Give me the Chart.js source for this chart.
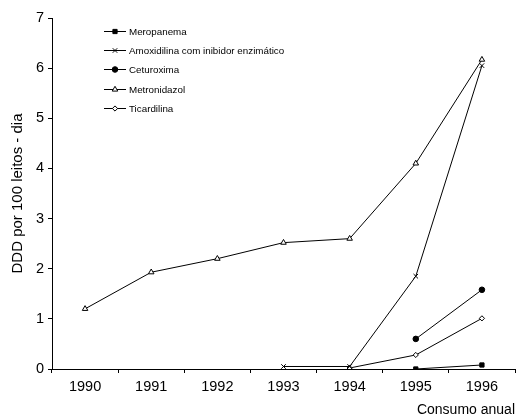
<!DOCTYPE html>
<html>
<head>
<meta charset="utf-8">
<script src="https://cdn.jsdelivr.net/npm/chart.js@4.4.1/dist/chart.umd.min.js"></script>
<style>
  html, body { margin: 0; padding: 0; background: #fff; }
  #wrap { width: 520px; height: 419px; position: relative; }
</style>
</head>
<body>
<div id="wrap"><canvas id="chart"></canvas></div>
<script>
// Data
const years = ['1990', '1991', '1992', '1993', '1994', '1995', '1996'];
const meropanema = [null, null, null, null, null, 0.0, 0.08];
const amoxidilina = [null, null, null, 0.05, 0.05, 1.85, 6.05];
const cefuroxima = [null, null, null, null, null, 0.6, 1.58];
const metronidazol = [1.2, 1.93, 2.2, 2.52, 2.6, 4.1, 6.17];
const ticardilina = [null, null, null, null, 0.02, 0.28, 1.01];
const seriesNames = ['Meropanema', 'Amoxidilina com inibidor enzimático', 'Ceturoxima', 'Metronidazol', 'Ticardilina'];
const yTicks = [0, 1, 2, 3, 4, 5, 6, 7];

const FONT = "'Liberation Sans', Arial, sans-serif";

function makeSet(label, data, style, radius, fill) {
    return {
        label: label,
        data: data,
        borderColor: '#000',
        borderWidth: 1,
        pointStyle: style,
        pointRadius: radius,
        pointBackgroundColor: fill,
        pointBorderColor: '#000',
        pointBorderWidth: 1,
        tension: 0,
        spanGaps: false
    };
}

// Legend drawn as a column inside the plot, like the original
const columnLegend = {
    id: 'columnLegend',
    afterDraw(chart) {
        const ctx = chart.ctx;
        const x0 = 104, x1 = 126, tx = 129;
        const rows = [31, 50, 69, 89, 108];
        ctx.save();
        ctx.font = '9.8px ' + FONT;
        ctx.textBaseline = 'middle';
        chart.data.datasets.forEach((ds, i) => {
            const y = rows[i];
            ctx.strokeStyle = '#000';
            ctx.lineWidth = 1;
            ctx.beginPath();
            ctx.moveTo(x0, y + 0.5);
            ctx.lineTo(x1, y + 0.5);
            ctx.stroke();
            ctx.fillStyle = ds.pointBackgroundColor;
            Chart.helpers.drawPoint(ctx, {
                pointStyle: ds.pointStyle,
                radius: ds.pointRadius,
                borderWidth: 1
            }, (x0 + x1) / 2, y + 0.5);
            ctx.fillStyle = '#000';
            ctx.fillText(ds.label, tx, y + 1);
        });
        ctx.restore();
    }
};

new Chart(document.getElementById('chart'), {
    type: 'line',
    data: {
        labels: years,
        datasets: [
            makeSet(seriesNames[0], meropanema, 'rect', 3, '#000'),
            makeSet(seriesNames[1], amoxidilina, 'crossRot', 3.2, '#000'),
            makeSet(seriesNames[2], cefuroxima, 'circle', 2.8, '#000'),
            makeSet(seriesNames[3], metronidazol, 'triangle', 3.2, '#fff'),
            makeSet(seriesNames[4], ticardilina, 'rectRot', 2.6, '#fff')
        ]
    },
    options: {
        responsive: true,
        maintainAspectRatio: false,
        animation: false,
        layout: { padding: { top: 18, right: 1, left: 0, bottom: 0 } },
        plugins: {
            legend: { display: false },
            tooltip: { enabled: false }
        },
        scales: {
            x: {
                type: 'category',
                offset: true,
                afterFit: s => { s.height = 50; },
                grid: {
                    offset: true,
                    drawOnChartArea: false,
                    drawTicks: true,
                    tickLength: 4,
                    color: '#000'
                },
                border: { color: '#000', width: 1 },
                ticks: {
                    color: '#000',
                    font: { family: FONT, size: 14.5 },
                    padding: 5,
                    maxRotation: 0
                },
                title: {
                    display: true,
                    text: 'Consumo anual',
                    align: 'end',
                    color: '#000',
                    font: { family: FONT, size: 14 },
                    padding: { top: 2, bottom: 0 }
                }
            },
            y: {
                min: 0,
                max: 7,
                afterFit: s => { s.width = 52; },
                afterBuildTicks: s => { s.ticks = yTicks.map(v => ({ value: v })); },
                grid: {
                    drawOnChartArea: false,
                    drawTicks: true,
                    tickLength: 4,
                    color: '#000'
                },
                border: { color: '#000', width: 1 },
                ticks: {
                    color: '#000',
                    font: { family: FONT, size: 14.5 },
                    padding: 4
                },
                title: {
                    display: true,
                    text: 'DDD por 100 leitos - dia',
                    color: '#000',
                    font: { family: FONT, size: 15 },
                    padding: { top: 9, bottom: 0 }
                }
            }
        }
    },
    plugins: [columnLegend]
});
</script>
</body>
</html>
